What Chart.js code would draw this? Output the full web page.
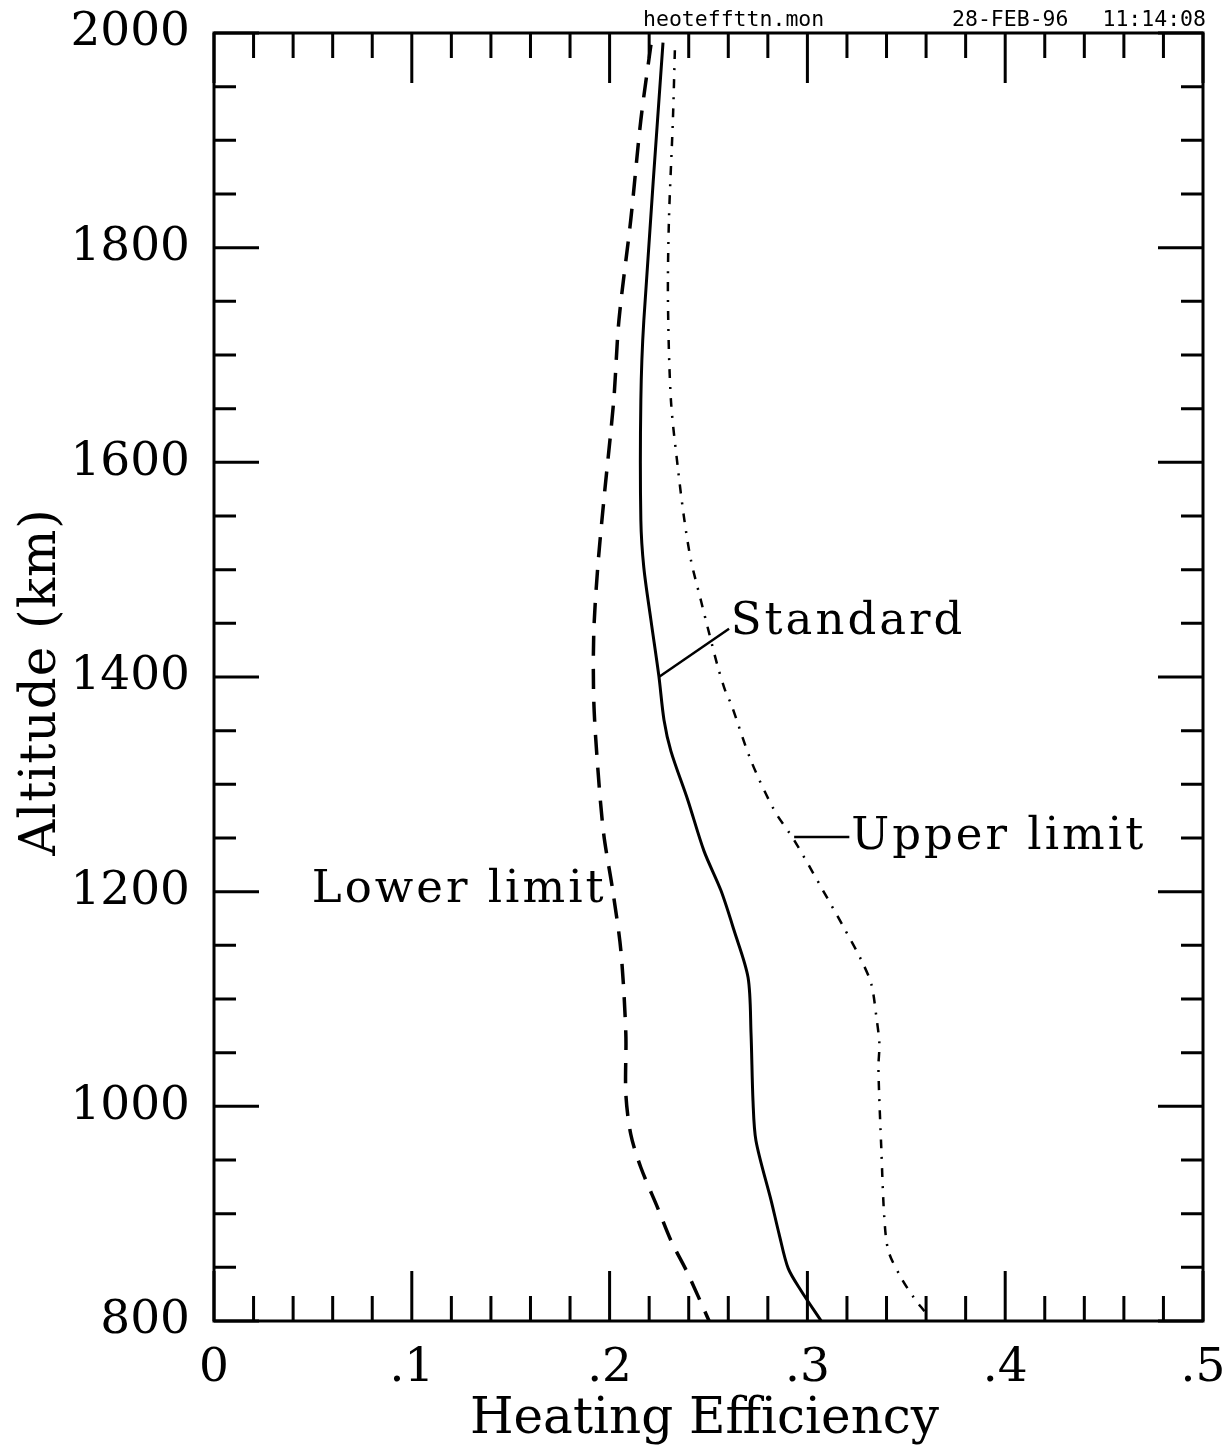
<!DOCTYPE html>
<html>
<head>
<meta charset="utf-8">
<script src="https://cdn.jsdelivr.net/npm/chart.js@4.4.1/dist/chart.umd.min.js"></script>
<style>
  html, body { margin: 0; padding: 0; background: #fff; }
  #wrap { width: 1223px; height: 1448px; position: relative; }
</style>
</head>
<body>
<div id="wrap"><canvas id="c"></canvas></div>
<script>
// ---- Data ----
const stdAlt  = [1991, 1732, 1658, 1546, 1502, 1453, 1401, 1360, 1331, 1285, 1238, 1201, 1164, 1120, 1068, 1005, 968, 912, 881, 849, 828, 800];
const stdEff  = [0.227, 0.2173, 0.2158, 0.2158, 0.2173, 0.2209, 0.2249, 0.2275, 0.231, 0.2396, 0.2477, 0.2563, 0.2629, 0.270, 0.2715, 0.2725, 0.274, 0.2817, 0.2857, 0.2903, 0.2969, 0.307];

const lowAlt  = [1989, 1919, 1826, 1732, 1658, 1565, 1502, 1441, 1378, 1316, 1254, 1201, 1145, 1068, 1012, 974, 943, 905, 875, 844, 800];
const lowEff  = [0.2209, 0.2158, 0.2107, 0.2047, 0.2021, 0.1971, 0.194, 0.192, 0.192, 0.194, 0.197, 0.2016, 0.2057, 0.2082, 0.2082, 0.2107, 0.2158, 0.2244, 0.231, 0.2396, 0.2503];

const upAlt   = [1984, 1919, 1826, 1751, 1658, 1595, 1549, 1509, 1471, 1441, 1409, 1385, 1375, 1322, 1276, 1248, 1204, 1166, 1136, 1114, 1083, 1058, 1036, 959, 896, 865, 840, 821, 809];
const upEff   = [0.233, 0.232, 0.230, 0.2295, 0.231, 0.2345, 0.2376, 0.2411, 0.2462, 0.2503, 0.2548, 0.2589, 0.2614, 0.2715, 0.2832, 0.2933, 0.307, 0.3186, 0.3273, 0.3323, 0.3349, 0.3364, 0.3359, 0.3374, 0.3389, 0.341, 0.3475, 0.3541, 0.3592];

// axis settings
const xMin = 0, xMax = 0.5, xMajor = 0.1, xMinor = 0.02;
const yMin = 800, yMax = 2000, yMajor = 200, yMinor = 50;
const xTitle = 'Heating Efficiency';
const yTitle = 'Altitude (km)';

// annotations (data coordinates)
const labelTexts = ['Standard', 'Upper limit', 'Lower limit'];
const labelX     = [0.2612, 0.3222, 0.1985];
const labelY     = [1451, 1251, 1201];
const labelAlign = ['left', 'left', 'right'];
const leaderX1   = [0.2249, 0.2933];
const leaderY1   = [1400, 1251];
const leaderX2   = [0.2604, 0.3212];
const leaderY2   = [1445, 1251];

const headerTexts = ['heoteffttn.mon', '28-FEB-96', '11:14:08'];

const toPts = (xs, ys) => xs.map((v, i) => ({x: v, y: ys[i]}));

const SERIF = '"DejaVu Serif", serif';

const decorPlugin = {
  id: 'decor',
  afterDatasetsDraw(chart) {
    const {ctx, chartArea: a, scales: {x, y}} = chart;
    ctx.save();
    ctx.strokeStyle = '#000';
    ctx.fillStyle = '#000';
    // frame
    ctx.lineWidth = 3;
    ctx.strokeRect(a.left, a.top, a.right - a.left, a.bottom - a.top);
    // x ticks (top & bottom, inward)
    const nx = Math.round((xMax - xMin) / xMinor);
    for (let i = 0; i <= nx; i++) {
      const v = xMin + i * xMinor;
      const px = x.getPixelForValue(v);
      const major = (i % Math.round(xMajor / xMinor)) === 0;
      const len = major ? 50 : 25;
      ctx.beginPath();
      ctx.moveTo(px, a.bottom); ctx.lineTo(px, a.bottom - len);
      ctx.moveTo(px, a.top); ctx.lineTo(px, a.top + len);
      ctx.stroke();
    }
    const ny = Math.round((yMax - yMin) / yMinor);
    for (let i = 0; i <= ny; i++) {
      const v = yMin + i * yMinor;
      const py = y.getPixelForValue(v);
      const major = (i % Math.round(yMajor / yMinor)) === 0;
      const len = major ? 45 : 22;
      ctx.beginPath();
      ctx.moveTo(a.left, py); ctx.lineTo(a.left + len, py);
      ctx.moveTo(a.right, py); ctx.lineTo(a.right - len, py);
      ctx.stroke();
    }
    // leader lines
    ctx.lineWidth = 2.5;
    for (let i = 0; i < leaderX1.length; i++) {
      ctx.beginPath();
      ctx.moveTo(x.getPixelForValue(leaderX1[i]), y.getPixelForValue(leaderY1[i]));
      ctx.lineTo(x.getPixelForValue(leaderX2[i]), y.getPixelForValue(leaderY2[i]));
      ctx.stroke();
    }
    // labels
    ctx.font = '45px ' + SERIF;
    ctx.letterSpacing = '3px';
    ctx.textBaseline = 'middle';
    for (let i = 0; i < labelTexts.length; i++) {
      ctx.textAlign = labelAlign[i];
      ctx.fillText(labelTexts[i], x.getPixelForValue(labelX[i]), y.getPixelForValue(labelY[i]));
    }
    // axis titles
    ctx.font = '50px ' + SERIF;
    ctx.letterSpacing = '0px';
    ctx.textAlign = 'center';
    ctx.textBaseline = 'alphabetic';
    ctx.fillText(xTitle, (a.left + a.right) / 2 - 4, 1433);
    ctx.save();
    ctx.letterSpacing = '1px';
    ctx.translate(55, (a.top + a.bottom) / 2 + 5);
    ctx.rotate(-Math.PI / 2);
    ctx.fillText(yTitle, 0, 0);
    ctx.restore();
    // header
    ctx.letterSpacing = '0px';
    ctx.font = '21.5px "DejaVu Sans Mono", monospace';
    ctx.textAlign = 'left';
    ctx.fillText(headerTexts[0], 643, 26);
    ctx.fillText(headerTexts[1], 952, 26);
    ctx.textAlign = 'right';
    ctx.fillText(headerTexts[2], 1206, 26);
    ctx.restore();
  }
};

new Chart(document.getElementById('c'), {
  type: 'scatter',
  data: {
    datasets: [
      { label: 'Standard', data: toPts(stdEff, stdAlt), showLine: true, borderColor: '#000', borderWidth: 3, pointRadius: 0, tension: 0.3 },
      { label: 'Lower limit', data: toPts(lowEff, lowAlt), showLine: true, borderColor: '#000', borderWidth: 3.5, borderDash: [20, 13], pointRadius: 0, tension: 0.3 },
      { label: 'Upper limit', data: toPts(upEff, upAlt), showLine: true, borderColor: '#000', borderWidth: 2.5, borderDash: [9, 9, 2, 9], pointRadius: 0, tension: 0.3 }
    ]
  },
  options: {
    responsive: true,
    maintainAspectRatio: false,
    animation: false,
    events: [],
    layout: { padding: { top: 33, right: 20, left: 0, bottom: 0 } },
    plugins: { legend: { display: false }, tooltip: { enabled: false } },
    scales: {
      x: {
        type: 'linear', min: xMin, max: xMax,
        grid: { display: false, drawTicks: false },
        border: { display: false },
        ticks: {
          stepSize: xMajor, padding: 20, color: '#000',
          font: { family: SERIF, size: 47 },
          callback: v => { const r = Math.round(v * 10); return r === 0 ? '0' : '.' + r; }
        },
        title: { display: false },
        afterFit: s => { s.height = 127; s.paddingLeft = 0; s.paddingRight = 0; }
      },
      y: {
        type: 'linear', min: yMin, max: yMax,
        grid: { display: false, drawTicks: false },
        border: { display: false },
        ticks: {
          stepSize: yMajor, padding: 24, color: '#000',
          font: { family: SERIF, size: 47, lineHeight: 0.3 },
          callback: v => String(v)
        },
        title: { display: false },
        afterFit: s => { s.width = 214; s.paddingTop = 0; s.paddingBottom = 0; }
      }
    }
  },
  plugins: [decorPlugin]
});
</script>
</body>
</html>
